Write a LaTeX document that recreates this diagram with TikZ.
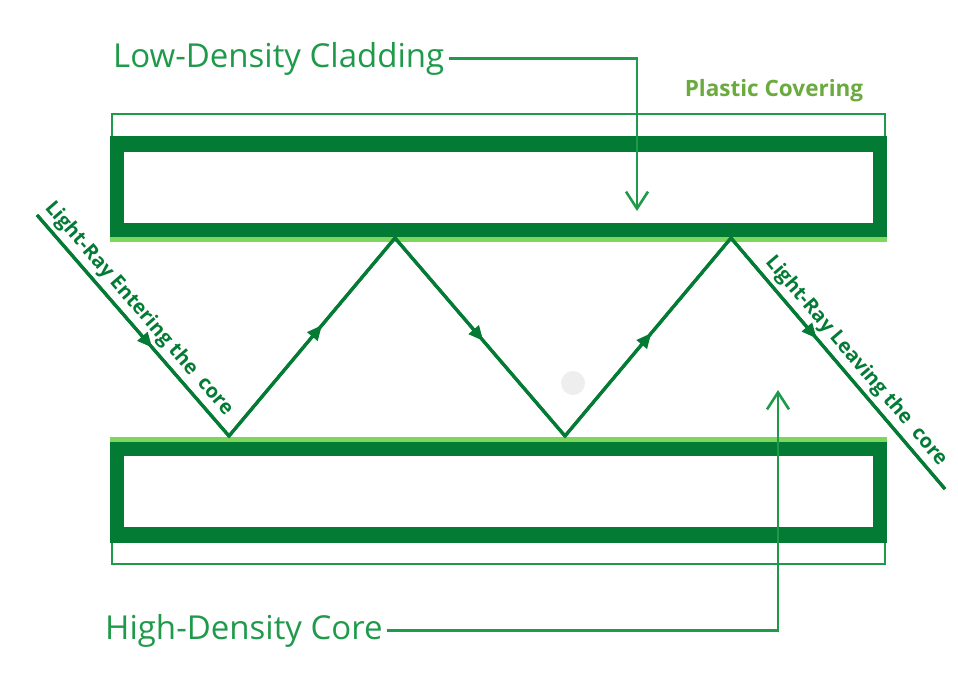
\documentclass[tikz,border=0pt]{standalone}
\usepackage{fontspec}
\setmainfont{Open Sans}
\usetikzlibrary{arrows.meta,decorations.markings}
\definecolor{clad}{HTML}{047B35}
\definecolor{strip}{HTML}{7CD75A}
\definecolor{lbl}{HTML}{1F9A4B}
\definecolor{plast}{HTML}{6BAA3E}
\definecolor{dot}{HTML}{EEEEEE}
\tikzset{
  cladbox/.style={fill=clad, draw=none},
  innerbox/.style={fill=white, draw=none},
  stripbox/.style={fill=strip, draw=none},
  plasticbox/.style={draw=lbl, line width=2.2pt},
  ray/.style={draw=clad, line width=3.2pt, line join=miter},
  midarrow/.style={postaction={decorate},decoration={markings,mark=at position #1 with {\arrow{Triangle[length=15pt,width=13pt]}}}},
  raylabel/.style={sloped, above, font=\bfseries\fontsize{20}{22}\selectfont, text=clad, inner sep=3.5pt},
  biglabel/.style={font=\fontsize{33}{38}\selectfont, text=lbl, inner sep=4pt},
  pointer/.style={draw=lbl, line width=2.6pt, -{Straight Barb[length=17pt,width=22pt,line width=2.6pt]}}
}
\begin{document}
\begin{tikzpicture}[x=1pt,y=-1pt]
\useasboundingbox (0,0) rectangle (958,697);
% top fibre layers
\draw[plasticbox] (112,114) rectangle (885,140);
\fill[cladbox] (110,136) rectangle (887,237);
\fill[innerbox] (124,152) rectangle (873,223);
\fill[stripbox] (110,237) rectangle (887,242);
% bottom fibre layers
\draw[plasticbox] (112,538) rectangle (885,564);
\fill[stripbox] (110,437) rectangle (887,442);
\fill[cladbox] (110,442) rectangle (887,543);
\fill[innerbox] (124,456) rectangle (873,527);
% grey dot
\fill[dot] (573,383) circle (12);
% ray
\coordinate (r0) at (37,215);
\coordinate (r1) at (229,436);
\coordinate (r2) at (395,238);
\coordinate (r3) at (565,436);
\coordinate (r4) at (731,238);
\coordinate (r5) at (945,489);
\draw[ray] (r0) -- (r1) -- (r2) -- (r3) -- (r4) -- (r5);
\draw[ray, midarrow=0.6] (r0) -- node[raylabel, pos=0.47] {Light-Ray Entering the\ \ core} (r1);
\draw[ray, midarrow=0.56] (r1) -- (r2);
\draw[ray, midarrow=0.52] (r2) -- (r3);
\draw[ray, midarrow=0.52] (r3) -- (r4);
\draw[ray, midarrow=0.4] (r4) -- node[raylabel, pos=0.53] {Light-Ray Leaving the\ \ core} (r5);
% labels
\node[biglabel, anchor=base west] (ldc) at (109,67) {Low-Density Cladding};
\node[biglabel, anchor=base west] (hdc) at (101,639) {High-Density Core};
\node[font=\bfseries\fontsize{22.5}{26}\selectfont, text=plast, anchor=base] (pc) at (774,96) {Plastic Covering};
\coordinate (ldctip) at (637,211);
\coordinate (hdctip) at (778,390);
\draw[pointer] (ldc.east) -| (ldctip);
\draw[pointer] (hdc.east) -| (hdctip);
\end{tikzpicture}
\end{document}
